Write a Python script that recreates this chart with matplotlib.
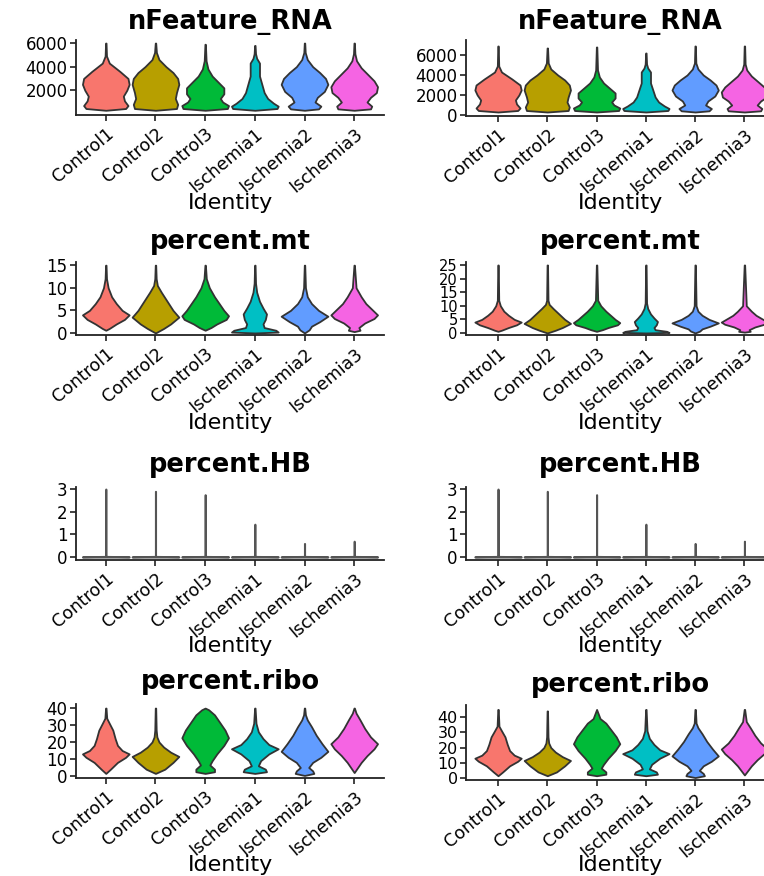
import numpy as np
import matplotlib.pyplot as plt

plt.rcParams['font.family'] = ['DejaVu Sans']

groups = ['Control1', 'Control2', 'Control3', 'Ischemia1', 'Ischemia2', 'Ischemia3']
colors = ['#F8766D', '#B79F00', '#00BA38', '#00BFC4', '#619CFF', '#F564E3']

# violin outlines: value levels and relative half width (1 = widest)
nfeature_y = [
    [300, 450, 700, 1100, 1500, 2000, 2500, 3000, 3600, 4300, 4900, 6000],
    [300, 450, 800, 1300, 1800, 2500, 3000, 3500, 4000, 4600, 5200, 6000],
    [300, 450, 700, 1000, 1300, 1700, 2200, 2700, 3200, 3800, 4500, 5900],
    [300, 450, 650, 900, 1300, 1800, 2500, 3200, 3800, 4300, 4700, 5100, 5800],
    [300, 420, 650, 1000, 1400, 1900, 2500, 3000, 3500, 4000, 4600, 5200, 6000],
    [300, 420, 650, 1000, 1400, 1800, 2300, 2800, 3300, 3900, 4500, 5100, 6000],
]
nfeature_w = [
    [0, 0.85, 0.95, 0.8, 0.75, 0.9, 1.0, 0.95, 0.6, 0.15, 0.03, 0.01],
    [0, 0.9, 0.95, 0.85, 0.9, 1.0, 0.95, 0.75, 0.45, 0.15, 0.04, 0.01],
    [0, 0.95, 1.0, 0.75, 0.65, 0.8, 0.8, 0.55, 0.3, 0.12, 0.04, 0.01],
    [0, 0.95, 1.0, 0.8, 0.55, 0.4, 0.3, 0.2, 0.2, 0.2, 0.08, 0.03, 0.01],
    [0, 0.6, 0.7, 0.45, 0.55, 0.85, 1.0, 0.9, 0.65, 0.35, 0.12, 0.03, 0.01],
    [0, 0.7, 0.75, 0.55, 0.7, 0.95, 1.0, 0.85, 0.6, 0.3, 0.1, 0.03, 0.01],
]
nfeature_top_right = [6900, 6700, 6800, 6200, 6900, 6900]

mt_y = [
    [0.6, 1.0, 2.0, 3.0, 4.0, 5.0, 6.5, 8.0, 10.0, 12.0, 15.0],
    [0.0, 1.0, 2.0, 3.5, 5.0, 7.0, 9.0, 10.5, 12.0, 15.0],
    [0.6, 1.2, 2.0, 3.0, 3.8, 5.0, 6.5, 8.0, 10.0, 12.0, 15.0],
    [0.0, 0.2, 0.6, 1.2, 2.0, 3.0, 4.2, 5.5, 7.0, 9.0, 11.0, 15.0],
    [0.0, 0.7, 1.5, 2.5, 3.7, 5.0, 6.5, 8.0, 10.0, 15.0],
    [0.3, 0.6, 1.2, 2.2, 3.2, 4.0, 5.0, 6.5, 8.0, 10.0, 15.0],
]
mt_w = [
    [0, 0.15, 0.45, 0.8, 1.0, 0.7, 0.45, 0.25, 0.1, 0.03, 0.01],
    [0, 0.35, 0.65, 1.0, 0.75, 0.5, 0.25, 0.08, 0.03, 0.01],
    [0, 0.25, 0.5, 0.9, 1.0, 0.8, 0.6, 0.4, 0.18, 0.05, 0.01],
    [0, 1.0, 0.9, 0.4, 0.35, 0.45, 0.5, 0.35, 0.2, 0.08, 0.03, 0.01],
    [0, 0.2, 0.3, 0.65, 1.0, 0.6, 0.3, 0.12, 0.04, 0.01],
    [0, 0.25, 0.2, 0.45, 0.85, 1.0, 0.8, 0.5, 0.3, 0.08, 0.01],
]
mt_top_right = [25, 25, 25, 25, 25, 25]

hb_top = [3.0, 2.9, 2.75, 1.45, 0.6, 0.7]

ribo_y = [
    [1.5, 4, 8, 11, 13, 15, 18, 22, 27, 31, 34, 40],
    [1.5, 4, 8, 11.5, 14, 17, 20, 23, 27, 40],
    [1.5, 2.5, 4, 6.5, 9, 13, 18, 22.5, 27, 32, 36, 39, 40],
    [1.5, 2.5, 4, 6, 9, 13, 16, 18.5, 22, 26, 31, 40],
    [0.3, 1.5, 3, 5, 8, 11, 14.5, 19, 24, 29, 33, 36, 40],
    [2, 5, 8, 12, 16, 19, 23, 28, 33, 37, 40],
]
ribo_w = [
    [0, 0.2, 0.5, 0.85, 1.0, 0.7, 0.5, 0.4, 0.3, 0.15, 0.04, 0.01],
    [0, 0.4, 0.75, 1.0, 0.65, 0.35, 0.15, 0.06, 0.03, 0.01],
    [0, 0.4, 0.4, 0.2, 0.3, 0.5, 0.8, 1.0, 0.85, 0.6, 0.4, 0.15, 0],
    [0, 0.5, 0.45, 0.15, 0.25, 0.6, 1.0, 0.6, 0.35, 0.15, 0.05, 0.01],
    [0, 0.4, 0.35, 0.18, 0.35, 0.7, 1.0, 0.75, 0.5, 0.3, 0.12, 0.04, 0.01],
    [0, 0.15, 0.3, 0.55, 0.85, 1.0, 0.7, 0.45, 0.25, 0.08, 0.01],
]
ribo_top_right = [45, 44, 45, 45, 45, 45]

W, H = 764, 876
HALF = 0.47
EDGE = '#333333'

fig = plt.figure(figsize=(W / 100, H / 100), dpi=100)


def make_ax(x0, x1, top, bottom):
    return fig.add_axes([x0 / W, 1 - bottom / H, (x1 - x0) / W, (bottom - top) / H])


def draw_violins(ax, ys, ws, tops=None):
    for i in range(len(groups)):
        y = np.array(ys[i], dtype=float)
        w = np.array(ws[i], dtype=float) * HALF
        if tops is not None:
            y[-1] = tops[i]
        xc = i + 1
        ax.fill_betweenx(y, xc - w, xc + w, facecolor=colors[i],
                         edgecolor=EDGE, linewidth=1.3, zorder=2)


def style_ax(ax, title, xlim, ylim, yticks, ybase, tcenter, ysize=12):
    ax.set_xlim(*xlim)
    ax.set_ylim(*ylim)
    ax.set_yticks(yticks)
    ax.set_yticklabels([str(t) for t in yticks], fontsize=ysize)
    ax.set_xticks(range(1, 7))
    ax.set_xticklabels(groups, fontsize=12.5, rotation=40, ha='right', va='top',
                       rotation_mode='anchor')
    for s in ['top', 'right']:
        ax.spines[s].set_visible(False)
    for s in ['left', 'bottom']:
        ax.spines[s].set_linewidth(1.3)
        ax.spines[s].set_color('#222222')
    ax.tick_params(length=4, width=1.2, color='#222222', pad=2)
    ax.tick_params(axis='x', pad=3)
    ax.patch.set_alpha(0)
    pos = ax.get_position()
    cx = (pos.x0 + pos.x1) / 2
    fig.text(cx, 1 - tcenter / H, title, fontsize=18.5, fontweight='bold',
             ha='center', va='center')
    fig.text(cx, 1 - ybase / H, 'Identity', fontsize=16, ha='center', va='baseline')


# column geometry in pixels
L = (76, 384, (0.4, 6.6))
R = (466, 774, (0.35, 6.6))

# row 1: nFeature_RNA
ax = make_ax(L[0], L[1], 40, 115)
draw_violins(ax, nfeature_y, nfeature_w)
style_ax(ax, 'nFeature_RNA', L[2], (-100, 6260), [2000, 4000, 6000], 209, 22)
ax = make_ax(R[0], R[1], 40, 116)
draw_violins(ax, nfeature_y, nfeature_w, nfeature_top_right)
style_ax(ax, 'nFeature_RNA', R[2], (-100, 7500), [0, 2000, 4000, 6000], 209, 22)

# row 2: percent.mt
ax = make_ax(L[0], L[1], 262, 335)
draw_violins(ax, mt_y, mt_w)
style_ax(ax, 'percent.mt', L[2], (-0.45, 15.7), [0, 5, 10, 15], 429, 242)
ax = make_ax(R[0], R[1], 262, 335)
draw_violins(ax, mt_y, mt_w, mt_top_right)
style_ax(ax, 'percent.mt', R[2], (-0.75, 26.1), [0, 5, 10, 15, 20, 25], 429, 242,
         ysize=10.5)

# row 3: percent.HB (flat violins with a thin spike)
hb_y = [[0, 0.015, 0.03, t] for t in hb_top]
hb_w = [[1.0, 1.0, 0.004, 0.004] for t in hb_top]
for col in (L, R):
    ax = make_ax(col[0], col[1], 487, 560)
    for i in range(len(groups)):
        y = np.array(hb_y[i])
        w = np.array(hb_w[i]) * HALF
        ax.fill_betweenx(y, i + 1 - w, i + 1 + w, facecolor=colors[i],
                         edgecolor='#555555', linewidth=1.4, zorder=2)
    style_ax(ax, 'percent.HB', col[2], (-0.13, 3.09), [0, 1, 2, 3], 652, 465)

# row 4: percent.ribo
ax = make_ax(L[0], L[1], 704, 778)
draw_violins(ax, ribo_y, ribo_w)
style_ax(ax, 'percent.ribo', L[2], (-1.2, 42.4), [0, 10, 20, 30, 40], 871, 682)
ax = make_ax(R[0], R[1], 705, 780)
draw_violins(ax, ribo_y, ribo_w, ribo_top_right)
style_ax(ax, 'percent.ribo', R[2], (-1.3, 47.9), [0, 10, 20, 30, 40], 871, 685,
         ysize=11.5)

fig.savefig('out.png', dpi=100)
